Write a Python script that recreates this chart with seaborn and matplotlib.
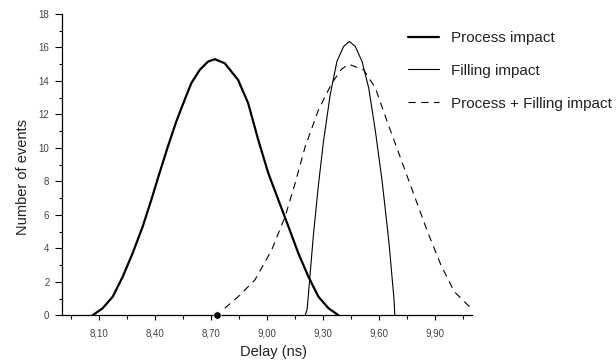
import numpy as np
import pandas as pd
import matplotlib
matplotlib.use("Agg")
import matplotlib.pyplot as plt
from matplotlib.ticker import MultipleLocator, FuncFormatter
import seaborn as sns

# ---- data ----
process_x = [8.064, 8.118, 8.172, 8.226, 8.279, 8.333, 8.379, 8.423, 8.468, 8.513,
             8.558, 8.594, 8.639, 8.684, 8.720, 8.773, 8.845, 8.899, 8.953, 9.007,
             9.061, 9.115, 9.168, 9.222, 9.276, 9.330, 9.384]
process_y = [0.0, 0.42, 1.11, 2.31, 3.71, 5.30, 6.89, 8.49, 10.08, 11.57,
             12.87, 13.87, 14.66, 15.16, 15.30, 15.06, 14.06, 12.67, 10.48, 8.49,
             6.89, 5.30, 3.71, 2.31, 1.11, 0.42, 0.0]

filling_x = [9.205, 9.215, 9.222, 9.249, 9.276, 9.303, 9.339, 9.375, 9.411, 9.442, 9.474,
             9.510, 9.546, 9.582, 9.618, 9.654, 9.681, 9.686]
filling_y = [0.0, 0.35, 1.21, 4.80, 7.79, 10.38, 13.17, 15.16, 16.06, 16.36, 16.06,
             15.16, 13.57, 10.97, 7.99, 4.40, 1.02, 0.0]

combined_x = [8.773, 8.845, 8.935, 9.025, 9.097, 9.151, 9.205, 9.276, 9.348, 9.400,
              9.438, 9.519, 9.582, 9.645, 9.717, 9.789, 9.861, 9.933, 10.005, 10.113]
combined_y = [0.42, 1.11, 2.11, 3.90, 5.89, 7.89, 10.08, 12.27, 13.87, 14.70,
              15.00, 14.66, 13.57, 11.57, 9.38, 7.19, 5.00, 3.01, 1.41, 0.22]

dot_x = [8.73]
dot_y = [0.0]

labels = ["Process impact", "Filling impact", "Process + Filling impact"]

# ---- style ----
sns.set_theme(style="ticks")
plt.rcParams['font.family'] = ['Liberation Sans', 'DejaVu Sans']

fig = plt.figure(figsize=(6.16, 3.6), dpi=100)
ax = fig.add_axes([62/616, 1-315.3/360, 410/616, (315.3-14)/360])

sns.lineplot(x=process_x, y=process_y, ax=ax, color="black", lw=1.6,
             estimator=None, sort=False, label=labels[0])
sns.lineplot(x=filling_x, y=filling_y, ax=ax, color="black", lw=0.8,
             estimator=None, sort=False, label=labels[1])
sns.lineplot(x=combined_x, y=combined_y, ax=ax, color="black", lw=0.8,
             estimator=None, sort=False, label=labels[2])
ax.lines[-1].set_dashes((6.5, 5))
for ln in ax.lines:
    ln.set_solid_joinstyle("round")
sns.scatterplot(x=dot_x, y=dot_y, ax=ax, color="black", s=28, zorder=5,
                clip_on=False, legend=False)

ax.set_xlim(7.90, 10.10)
ax.set_ylim(0, 18)
ax.set_xticks([8.10, 8.40, 8.70, 9.00, 9.30, 9.60, 9.90])
ax.xaxis.set_minor_locator(MultipleLocator(0.15))
ax.yaxis.set_major_locator(MultipleLocator(2))
ax.yaxis.set_minor_locator(MultipleLocator(1))
ax.xaxis.set_major_formatter(FuncFormatter(lambda v, p: f"{v:.2f}".replace('.', ',')))
ax.yaxis.set_major_formatter(FuncFormatter(lambda v, p: f"{int(round(v))}"))

ax.tick_params(axis='x', which='major', length=3.5, width=0.8, labelsize=7, pad=6,
               colors="black", labelcolor="#444444")
ax.tick_params(axis='x', which='minor', length=3, width=0.8, colors="black")
ax.tick_params(axis='y', which='major', length=5, width=0.8, labelsize=7, pad=4,
               colors="black", labelcolor="#444444")
ax.tick_params(axis='y', which='minor', length=2.5, width=0.8, colors="black")

sns.despine(ax=ax)
for s in ("left", "bottom"):
    ax.spines[s].set_linewidth(0.9)
    ax.spines[s].set_color("black")

ax.set_xlabel("Delay (ns)", fontsize=10.5, color="#222222")
ax.set_ylabel("Number of events", fontsize=10.5, color="#222222")
ax.xaxis.set_label_coords(0.515, -0.097)
ax.yaxis.set_label_coords(-0.078, 0.46)

handles, labs = ax.get_legend_handles_labels()
ax.legend(handles, labs, loc="upper left", bbox_to_anchor=(408/616, 1-31/360),
          bbox_transform=fig.transFigure, frameon=False, fontsize=11,
          handlelength=2.0, handletextpad=0.8, labelspacing=1.23, borderpad=0,
          borderaxespad=0, labelcolor="#222222")

fig.savefig("out.png", dpi=100)
